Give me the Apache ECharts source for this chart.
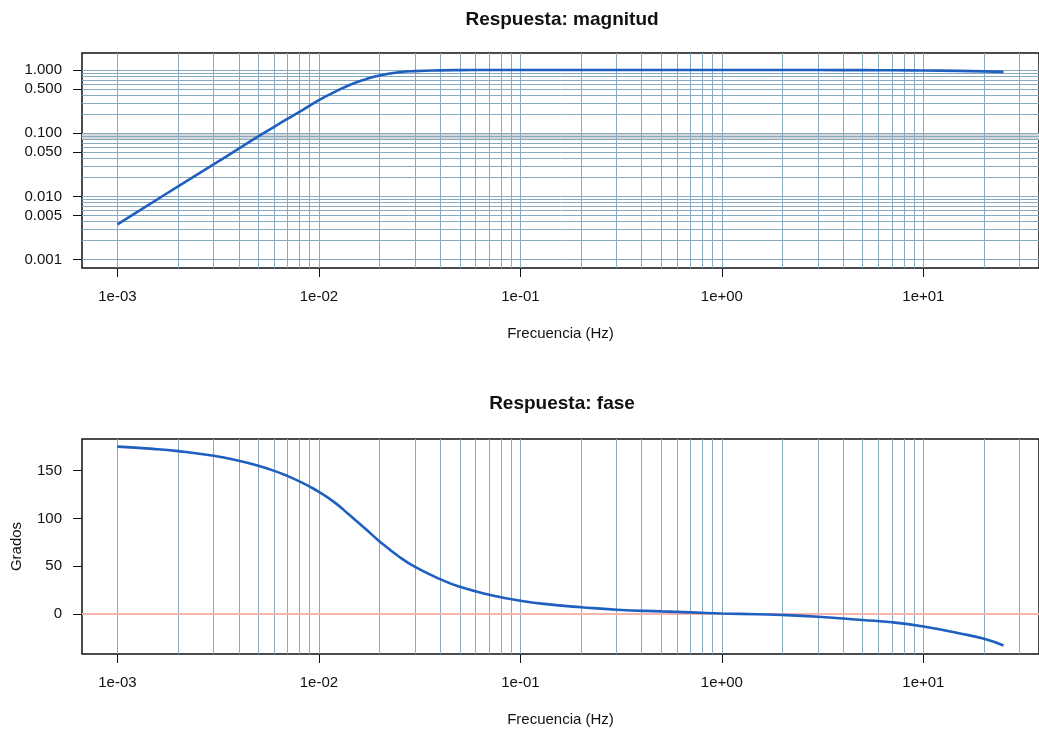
<!DOCTYPE html>
<html>
<head>
<meta charset="utf-8">
<title>Respuesta en frecuencia</title>
<script src="https://cdn.jsdelivr.net/npm/echarts@6/dist/echarts.min.js"></script>
<style>
  html, body { margin: 0; padding: 0; background: #ffffff; }
  #chart { width: 1039px; height: 731px; }
</style>
</head>
<body>
<div id="chart"></div>
<script>
// Frequency response samples
const freq = [0.001, 0.0015, 0.002, 0.003, 0.004, 0.005, 0.006, 0.007, 0.008, 0.009,
  0.01, 0.012, 0.014, 0.017, 0.02, 0.025, 0.03, 0.04, 0.05, 0.07,
  0.1, 0.15, 0.2, 0.3, 0.5, 0.7, 1, 1.5, 2, 3, 5, 7, 10, 15, 20, 25];
const magnitude = [0.0036, 0.0081, 0.0144, 0.032, 0.057, 0.089, 0.126, 0.170, 0.218, 0.272,
  0.335, 0.45, 0.57, 0.71, 0.82, 0.92, 0.96, 0.987, 0.995, 0.999,
  1.0, 1.0, 1.0, 1.0, 1.0, 1.0, 1.0, 1.0, 0.999, 0.998, 0.995, 0.99, 0.982, 0.968, 0.952, 0.935];
const phase = [175, 172.7, 170.3, 165.4, 160.2, 155, 149.7, 144.2, 138.7, 133.2,
  127.8, 116.5, 104.5, 89.2, 76, 60, 49.3, 36.5, 28.5, 20.3,
  14, 9.4, 7.2, 4.6, 2.8, 1.8, 0.7, -0.2, -0.9, -2.8, -6.2, -8.6, -13, -20, -25.8, -32.8];

// Tick values and their labels
const freqTicks = [0.001, 0.01, 0.1, 1, 10];
const freqTickLabels = ['1e-03', '1e-02', '1e-01', '1e+00', '1e+01'];
const magTicks = [1, 0.5, 0.1, 0.05, 0.01, 0.005, 0.001];
const magTickLabels = ['1.000', '0.500', '0.100', '0.050', '0.010', '0.005', '0.001'];
const phaseTicks = [0, 50, 100, 150];
const phaseTickLabels = ['0', '50', '100', '150'];

// Plot ranges
const freqRange = [Math.pow(10, -3.176), Math.pow(10, 1.574)];
const magRange = [Math.pow(10, -3.133), Math.pow(10, 0.269)];
const phaseRange = [-41.7, 183];
const shadeBand = [0.078, 0.1];

const FONT = '"Liberation Sans", Arial, Helvetica, sans-serif';
const INK = '#111111';
const GRID_BLUE = '#86aac0';
const CURVE = '#1f5fbf';
const ZERO_LINE = '#f5b5ad';

const lg = Math.log10;

// 1..9 x 10^e for each decade
function decadeSteps(lo, hi) {
  const out = [];
  for (let e = lo; e <= hi; e++) {
    for (let k = 1; k <= 9; k++) out.push(+(k * Math.pow(10, e)).toPrecision(6));
  }
  return out;
}
const freqGrid = decadeSteps(-3, 1);
const magGrid = decadeSteps(-3, -1).concat([1]);

function labeler(ticks, labels, toExp) {
  const pos = ticks.map(t => toExp ? lg(t) : t);
  return function (v) {
    let best = 0;
    for (let i = 1; i < pos.length; i++) {
      if (Math.abs(pos[i] - v) < Math.abs(pos[best] - v)) best = i;
    }
    return labels[best];
  };
}

const tickText = { fontFamily: FONT, fontSize: 15, color: INK };
const nameText = { fontFamily: FONT, fontSize: 15, color: INK };

function hiddenLog(gridIndex, range) {
  return { type: 'log', logBase: 10, gridIndex: gridIndex, min: range[0], max: range[1], show: false };
}

// Frequency axis drawn in decade units
function freqScaleAxis(gridIndex) {
  const vals = freqTicks.map(lg);
  return {
    type: 'value', gridIndex: gridIndex, position: 'bottom',
    min: lg(freqRange[0]), max: lg(freqRange[1]),
    axisLine: { show: false, onZero: false },
    axisTick: { show: true, length: 9, customValues: vals, lineStyle: { color: INK, width: 1 } },
    axisLabel: Object.assign({ customValues: vals, margin: 21,
      formatter: labeler(freqTicks, freqTickLabels, true) }, tickText),
    splitLine: { show: false },
    name: 'Frecuencia (Hz)', nameLocation: 'middle', nameGap: 58,
    nameTextStyle: nameText
  };
}

function gridMarkLine(items) {
  return {
    silent: true, symbol: ['none', 'none'], z: 1, animation: false, precision: 8,
    label: { show: false },
    emphasis: { disabled: true },
    lineStyle: { color: GRID_BLUE, width: 1, type: 'solid', opacity: 1 },
    data: items
  };
}

const chart = echarts.init(document.getElementById('chart'), null, { renderer: 'canvas' });

const option = {
  animation: false,
  backgroundColor: '#ffffff',
  title: [
    { text: 'Respuesta: magnitud', left: 562, top: 10, textAlign: 'center', padding: 0,
      textStyle: { fontFamily: FONT, fontSize: 19, fontWeight: 'bold', color: INK } },
    { text: 'Respuesta: fase', left: 562, top: 394, textAlign: 'center', padding: 0,
      textStyle: { fontFamily: FONT, fontSize: 19, fontWeight: 'bold', color: INK } }
  ],
  grid: [
    { left: 82, right: -4, top: 53, height: 215, show: true,
      borderColor: INK, borderWidth: 1.5, backgroundColor: 'transparent' },
    { left: 82, right: -4, top: 439, height: 215, show: true,
      borderColor: INK, borderWidth: 1.5, backgroundColor: 'transparent' }
  ],
  xAxis: [
    hiddenLog(0, freqRange),
    freqScaleAxis(0),
    hiddenLog(1, freqRange),
    freqScaleAxis(1)
  ],
  yAxis: [
    hiddenLog(0, magRange),
    {
      type: 'value', gridIndex: 0, position: 'left',
      min: lg(magRange[0]), max: lg(magRange[1]),
      axisLine: { show: false, onZero: false },
      axisTick: { show: true, length: 9, customValues: magTicks.map(lg), lineStyle: { color: INK } },
      axisLabel: Object.assign({ customValues: magTicks.map(lg), margin: 20,
        formatter: labeler(magTicks, magTickLabels, true) }, tickText),
      splitLine: { show: false }
    },
    {
      type: 'value', gridIndex: 1, position: 'left',
      min: phaseRange[0], max: phaseRange[1],
      axisLine: { show: false, onZero: false },
      axisTick: { show: true, length: 9, customValues: phaseTicks, lineStyle: { color: INK } },
      axisLabel: Object.assign({ customValues: phaseTicks, margin: 20,
        formatter: labeler(phaseTicks, phaseTickLabels, false) }, tickText),
      splitLine: { show: false },
      name: 'Grados', nameLocation: 'middle', nameGap: 58, nameRotate: 90,
      nameTextStyle: nameText
    }
  ],
  series: [
    {
      // magnitude panel grid
      type: 'line', xAxisIndex: 0, yAxisIndex: 0, data: [], z: 1, silent: true,
      markLine: gridMarkLine(
        freqGrid.map(f => ({ xAxis: f })).concat(magGrid.map(m => ({ yAxis: m })))
      ),
      markArea: {
        silent: true, z: 1, precision: 8,
        itemStyle: { color: '#d4d7d8', opacity: 1 },
        label: { show: false },
        data: [[{ yAxis: shadeBand[0] }, { yAxis: shadeBand[1] }]]
      }
    },
    {
      name: 'magnitud', type: 'line', xAxisIndex: 0, yAxisIndex: 0, z: 5,
      data: freq.map((f, i) => [f, magnitude[i]]),
      showSymbol: false, smooth: 0.5, silent: true,
      lineStyle: { color: CURVE, width: 2.6 }
    },
    {
      // phase panel grid and zero reference
      type: 'line', xAxisIndex: 2, yAxisIndex: 2, data: [], z: 1, silent: true,
      markLine: gridMarkLine(
        freqGrid.map(f => ({ xAxis: f })).concat([
          { yAxis: 0, lineStyle: { color: ZERO_LINE, width: 2 } }
        ])
      )
    },
    {
      name: 'fase', type: 'line', xAxisIndex: 2, yAxisIndex: 2, z: 5,
      data: freq.map((f, i) => [f, phase[i]]),
      showSymbol: false, smooth: 0.5, silent: true,
      lineStyle: { color: CURVE, width: 2.6 }
    }
  ]
};

chart.setOption(option);
</script>
</body>
</html>
